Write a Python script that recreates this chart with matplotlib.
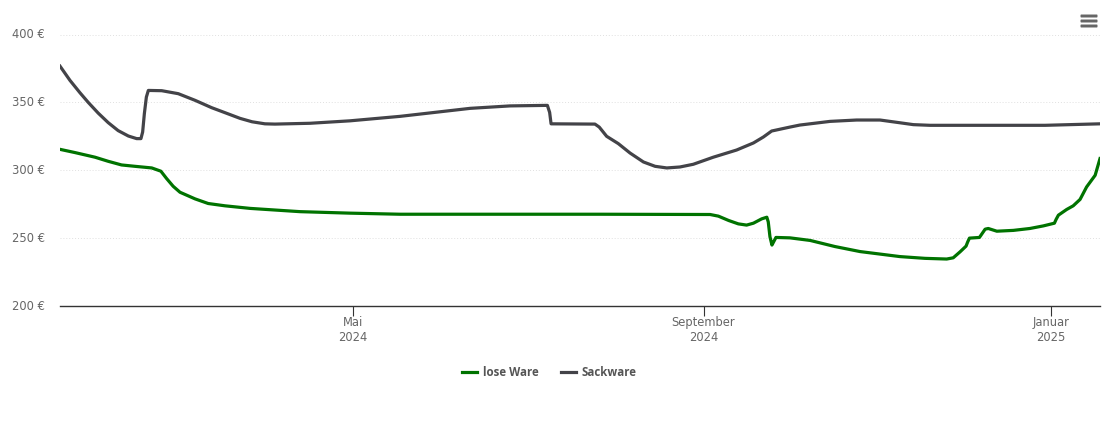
"""
Price history for loose and bagged goods, Jan 2024 to Jan 2025.
"""
import matplotlib
matplotlib.use("Agg")
import matplotlib.pyplot as plt
import pandas as pd
from matplotlib.patches import FancyBboxPatch
from matplotlib.transforms import ScaledTranslation

# days are counted from 2024-05-01
BASE = pd.Timestamp("2024-05-01")

lose_days = [-102.8, -97.5, -90.5, -85.9, -81.2, -76.5, -70.6, -67.4, -65.4, -63.1, -60.7, -55.4,
             -50.8, -44.9, -36.1, -18.6, -1.1, 16.5, 51.6, 86.7, 125.3, 128.2, 131.8, 135.2, 138.1,
             140.5, 143.4, 145.2, 145.7, 146.3, 147.0, 147.6, 148.4, 153.3, 160.4, 169.1, 177.9,
             191.9, 200.7, 208.3, 210.6, 213.0, 215.1, 215.7, 216.3, 219.8, 221.8, 222.9, 225.9,
             231.7, 237.5, 242.2, 246.1, 246.7, 247.5, 250.4, 252.7, 255.1, 257.4, 260.4, 262.1]
lose_price = [315.4, 313.0, 309.6, 306.6, 303.9, 302.9, 301.7, 299.3, 293.9, 288.2, 283.8, 278.9,
              275.5, 273.8, 271.9, 269.5, 268.4, 267.6, 267.6, 267.6, 267.4, 266.2, 263.0, 260.5, 259.6,
              261.0, 264.2, 265.4, 262.0, 251.0, 244.9, 247.3, 250.5, 250.2, 248.3, 243.8, 240.1,
              236.4, 235.1, 234.6, 235.5, 239.9, 244.1, 247.3, 250.0, 250.5, 256.6, 257.1, 255.1,
              255.7, 257.1, 259.0, 261.0, 263.8, 266.9, 271.1, 273.8, 278.5, 287.7, 296.3, 308.6]

sack_days = [-102.8, -99.3, -95.8, -92.9, -89.4, -85.9, -82.4, -78.8, -75.9, -74.4, -73.8, -73.2,
             -72.5, -71.8, -67.1, -61.3, -55.4, -49.6, -44.9, -39.6, -35.4, -30.9, -27.4, -15.1,
             -1.1, 16.5, 41.1, 55.1, 68.2, 69.0, 69.5, 84.9, 86.4, 89.0, 93.1, 97.2, 101.9, 106.0,
             110.1, 114.7, 119.4, 126.4, 134.6, 140.5, 144.0, 146.9, 153.3, 156.8, 167.4, 176.7,
             184.9, 190.8, 196.6, 202.5, 242.8, 262.1]
sack_price = [376.7, 366.2, 357.1, 350.0, 342.1, 335.1, 329.2, 325.2, 323.3, 323.3, 328.2, 341.7,
              353.9, 358.8, 358.6, 356.4, 351.5, 346.1, 342.4, 338.2, 335.7, 334.2, 334.0, 334.6,
              336.4, 339.7, 345.6, 347.4, 347.8, 342.6, 334.2, 334.0, 331.8, 325.0, 319.6, 312.7, 306.1, 302.9,
              301.7, 302.4, 304.4, 309.6, 314.9, 320.1, 324.5, 328.9, 331.8, 333.3, 336.0, 337.0,
              337.0, 335.3, 333.6, 333.1, 333.1, 334.2]

y_ticks = [200, 250, 300, 350, 400]
x_tick_dates = ["2024-05-01", "2024-09-01", "2025-01-01"]
x_tick_labels = ["Mai\n2024", "September\n2024", "Januar\n2025"]

GREEN = "#007300"
DARK = "#434348"
LABEL = "#666666"

W, H = 1110, 423
fig = plt.figure(figsize=(W / 100, H / 100), dpi=100)
ax = fig.add_axes([60 / W, 1 - 306 / H, 1040 / W, (306 - 34.5) / H])

lose_x = BASE + pd.to_timedelta(lose_days, unit="D")
sack_x = BASE + pd.to_timedelta(sack_days, unit="D")
ax.plot(lose_x, lose_price, color=GREEN, lw=2.3, solid_joinstyle="round", label="lose Ware", zorder=3)
ax.plot(sack_x, sack_price, color=DARK, lw=2.3, solid_joinstyle="round", label="Sackware", zorder=3)

ax.set_xlim(BASE + pd.Timedelta(days=-102.8), BASE + pd.Timedelta(days=262.1))
ax.set_ylim(200, 400)

for s in ["top", "right", "left"]:
    ax.spines[s].set_visible(False)
ax.spines["bottom"].set_color("#333333")
ax.spines["bottom"].set_linewidth(1.0)

ax.set_yticks(y_ticks)
ax.set_yticklabels([f"{v} €" for v in y_ticks], fontsize=8.3, color=LABEL)
ax.tick_params(axis="y", length=0, pad=10.7)
# labels sit a little above their gridlines
shift_up = ScaledTranslation(0, 1.5 / 100, fig.dpi_scale_trans)
for t in ax.get_yticklabels():
    t.set_transform(t.get_transform() + shift_up)
ax.grid(axis="y", color="#e0e0e0", lw=0.7, linestyle=(0, (1, 2)))
ax.set_axisbelow(True)

ax.set_xticks(pd.to_datetime(x_tick_dates))
ax.set_xticklabels(x_tick_labels, fontsize=8.3, color=LABEL, linespacing=1.2)
ax.tick_params(axis="x", length=7.5, width=0.8, color="#333333", pad=0)

ax.legend(loc="upper left", bbox_to_anchor=(459 / W, 1 - 363 / H), bbox_transform=fig.transFigure,
          ncol=2, frameon=False, handlelength=1.3, handletextpad=0.45, columnspacing=2.0,
          prop={"family": "Open Sans", "weight": "bold", "size": 8.3}, labelcolor="#555555",
          borderpad=0.3, borderaxespad=0)

# menu icon, top right
for y in [16, 21, 26]:
    fig.add_artist(FancyBboxPatch((1081 / W, 1 - (y + 1) / H), 16 / W, 2 / H,
                                  boxstyle="round,pad=0", transform=fig.transFigure,
                                  facecolor="#666666", edgecolor="#666666", lw=0.7))

fig.savefig("out.png", dpi=100)
